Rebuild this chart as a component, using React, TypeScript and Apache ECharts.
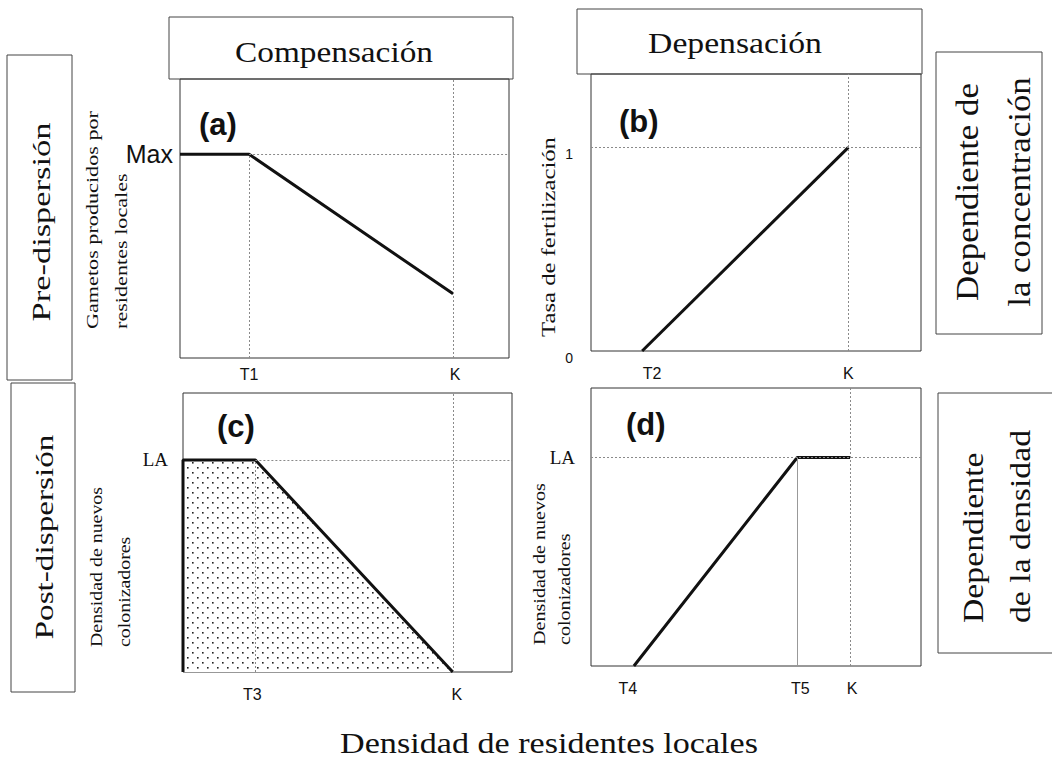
import React, { useEffect, useRef } from 'react';
import * as echarts from 'echarts';

// ---------- data ----------
const X_MAX = 100;

// (a) Compensación, pre-dispersión
const aX = [0, 21, 83];
const aY = [73, 73, 23];
const aXTickValues = [21, 83];
const aXTickLabels = ['T1', 'K'];
const aYTickValues = [73];
const aYTickLabels = ['Max'];
const aYMax = 100;

// (b) Depensación, pre-dispersión
const bX = [15.5, 78];
const bY = [0, 1];
const bXTickValues = [15.5, 78];
const bXTickLabels = ['T2', 'K'];
const bYTickValues = [0, 1];
const bYTickLabels = ['0', '1'];
const bYMax = 1.36;

// (c) Compensación, post-dispersión
const cX = [0, 0, 22, 82];
const cY = [0, 76, 76, 0];
const cXTickValues = [22, 82];
const cXTickLabels = ['T3', 'K'];
const cYTickValues = [76];
const cYTickLabels = ['LA'];
const cYMax = 100;

// (d) Depensación, post-dispersión
const dX = [13, 62.5, 78.5];
const dY = [0, 75, 75];
const dXTickValues = [13, 62.5, 78.5];
const dXTickLabels = ['T4', 'T5', 'K'];
const dYTickValues = [75];
const dYTickLabels = ['LA'];
const dYMax = 100;

// ---------- helpers ----------
const SERIF = 'Liberation Serif';
const SANS = 'Liberation Sans';
const INK = '#111';
const GUIDE = '#8a8a8a';

const zip = (xs: number[], ys: number[]) => xs.map((x, i) => [x, ys[i]]);

let measureCtx: CanvasRenderingContext2D | null = null;
function textWidth(text: string, font: string) {
  if (!measureCtx) measureCtx = document.createElement('canvas').getContext('2d');
  if (!measureCtx) return 1;
  measureCtx.font = font;
  return measureCtx.measureText(text).width || 1;
}

function rotText(text: string, x: number, y: number, size: number, family: string, scale: number, align = 'center') {
  return {
    type: 'text',
    x,
    y,
    rotation: Math.PI / 2,
    scaleX: scale,
    scaleY: 1,
    silent: true,
    z: 10,
    style: {
      text,
      fontSize: size,
      fontFamily: family,
      fill: INK,
      align,
      verticalAlign: 'middle',
      textAlign: align,
      textVerticalAlign: 'middle',
    },
  };
}

function horText(text: string, x: number, y: number, size: number, family: string, scale: number) {
  return {
    type: 'text',
    x,
    y,
    scaleX: scale,
    scaleY: 1,
    silent: true,
    z: 10,
    style: {
      text,
      fontSize: size,
      fontFamily: family,
      fill: INK,
      align: 'center',
      verticalAlign: 'middle',
      textAlign: 'center',
      textVerticalAlign: 'middle',
    },
  };
}

function box(x: number, y: number, w: number, h: number) {
  return {
    type: 'rect',
    shape: { x, y, width: w, height: h },
    silent: true,
    z: 1,
    style: { fill: 'none', stroke: '#444', lineWidth: 1 },
  };
}

function fit(text: string, size: number, family: string, target: number) {
  return target / textWidth(text, `${size}px ${family}`);
}

type Seg = { a: number[]; b: number[]; solid?: boolean };
function guides(segs: Seg[]) {
  return {
    silent: true,
    symbol: ['none', 'none'],
    label: { show: false },
    lineStyle: { type: [2, 2], color: GUIDE, width: 1 },
    data: segs.map((s) => [
      s.solid
        ? { coord: s.a, lineStyle: { type: 'solid', color: '#999', width: 1 } }
        : { coord: s.a },
      { coord: s.b },
    ]),
  };
}

function makeDots(): HTMLCanvasElement {
  const c = document.createElement('canvas');
  c.width = 10;
  c.height = 10;
  const g = c.getContext('2d');
  if (g) {
    g.fillStyle = '#ffffff';
    g.fillRect(0, 0, 10, 10);
    g.fillStyle = '#222';
    g.fillRect(2, 2, 1.6, 1.6);
    g.fillRect(7, 7, 1.6, 1.6);
  }
  return c;
}

// shifts: horizontal nudge (px) of each label relative to its tick, as in the figure
function xAxisOf(grid: number, vals: number[], labs: string[], margin: number, shifts: number[]) {
  const rich: any = {};
  shifts.forEach((s, i) => {
    rich['p' + i] = {
      fontFamily: SANS,
      fontSize: 16,
      color: INK,
      padding: s >= 0 ? [0, 0, 0, 2 * s] : [0, -2 * s, 0, 0],
    };
  });
  return {
    type: 'value',
    gridIndex: grid,
    min: 0,
    max: X_MAX,
    axisLine: { show: false },
    axisTick: { show: false },
    splitLine: { show: false },
    axisLabel: {
      customValues: vals,
      formatter: (v: number) => {
        const i = vals.findIndex((t) => Math.abs(t - v) < 1e-6);
        return i >= 0 ? `{p${i}|${labs[i]}}` : '';
      },
      rich,
      margin,
      fontFamily: SANS,
      fontSize: 16,
      color: INK,
    },
  };
}

function yAxisOf(grid: number, max: number, vals: number[], labs: string[], label: any) {
  return {
    type: 'value',
    gridIndex: grid,
    min: 0,
    max,
    axisLine: { show: false },
    axisTick: { show: false },
    splitLine: { show: false },
    axisLabel: {
      customValues: vals,
      formatter: (v: number) => {
        const i = vals.findIndex((t) => Math.abs(t - v) < 1e-6);
        return i >= 0 ? labs[i] : '';
      },
      color: INK,
      ...label,
    },
  };
}

export default function App() {
  const ref = useRef<HTMLDivElement>(null);

  useEffect(() => {
    if (!ref.current) return;
    const chart = echarts.init(ref.current, undefined, { renderer: 'svg' });

    const dots = makeDots();
    const lineStyle = { color: INK, width: 3 };

    const [aT1, aK] = aXTickValues;
    const aMax = aYTickValues[0];
    const bK = bXTickValues[1];
    const bOne = bYTickValues[1];
    const [cT3, cK] = cXTickValues;
    const cLA = cYTickValues[0];
    const [, dT5, dK] = dXTickValues;
    const dLA = dYTickValues[0];

    // text scales (fit measured lengths in the figure)
    const sPre = fit('Pre-dispersión', 26, SERIF, 199);
    const sPost = fit('Post-dispersión', 26, SERIF, 205);
    const sA = fit('Gametos producidos por', 16, SERIF, 218);
    const sB = fit('Tasa de fertilización', 19, SERIF, 200);
    const sC = fit('Densidad de nuevos', 17, SERIF, 160);
    const sD = fit('Densidad de nuevos', 17, SERIF, 162);
    const sR1 = fit('Dependiente de', 32, SERIF, 218);
    const sR2 = fit('de la densidad', 30, SERIF, 193);
    const sComp = fit('Compensación', 30, SERIF, 198);
    const sDep = fit('Depensación', 30, SERIF, 174);
    const sBottom = fit('Densidad de residentes locales', 30, SERIF, 418);

    const titleStyle = { fontFamily: SANS, fontSize: 31, fontWeight: 'bold', color: INK };

    const option: any = {
      animation: false,
      backgroundColor: '#ffffff',
      title: [
        { text: '(a)', left: 199, top: 109, padding: 0, textStyle: titleStyle },
        { text: '(b)', left: 619, top: 106, padding: 0, textStyle: titleStyle },
        { text: '(c)', left: 217, top: 411, padding: 0, textStyle: titleStyle },
        { text: '(d)', left: 626, top: 409, padding: 0, textStyle: titleStyle },
      ],
      grid: [
        { left: 180, top: 79, width: 329, height: 279, show: true, borderColor: '#333', borderWidth: 1, backgroundColor: 'transparent' },
        { left: 591, top: 74, width: 330, height: 277, show: true, borderColor: '#333', borderWidth: 1, backgroundColor: 'transparent' },
        { left: 183, top: 393, width: 329, height: 279, show: true, borderColor: '#333', borderWidth: 1, backgroundColor: 'transparent' },
        { left: 591, top: 388, width: 330, height: 278, show: true, borderColor: '#333', borderWidth: 1, backgroundColor: 'transparent' },
      ],
      xAxis: [
        xAxisOf(0, aXTickValues, aXTickLabels, 8, [0, 2]),
        xAxisOf(1, bXTickValues, bXTickLabels, 14, [10, 0]),
        xAxisOf(2, cXTickValues, cXTickLabels, 14, [-3, 4]),
        xAxisOf(3, dXTickValues, dXTickLabels, 14, [-6, 3, 2]),
      ],
      yAxis: [
        yAxisOf(0, aYMax, aYTickValues, aYTickLabels, { fontFamily: SANS, fontSize: 25, margin: 7 }),
        yAxisOf(1, bYMax, bYTickValues, bYTickLabels, { fontFamily: SANS, fontSize: 14, margin: 18, verticalAlign: 'top' }),
        yAxisOf(2, cYMax, cYTickValues, cYTickLabels, { fontFamily: SERIF, fontSize: 19, margin: 15 }),
        yAxisOf(3, dYMax, dYTickValues, dYTickLabels, { fontFamily: SERIF, fontSize: 19, margin: 16 }),
      ],
      series: [
        {
          type: 'line',
          xAxisIndex: 0,
          yAxisIndex: 0,
          data: zip(aX, aY),
          symbol: 'none',
          clip: false,
          lineStyle,
          markLine: guides([
            { a: [aT1, aMax], b: [X_MAX, aMax] },
            { a: [aT1, 0], b: [aT1, aMax] },
            { a: [aK, 0], b: [aK, aYMax] },
          ]),
        },
        {
          type: 'line',
          xAxisIndex: 1,
          yAxisIndex: 1,
          data: zip(bX, bY),
          symbol: 'none',
          clip: false,
          lineStyle,
          markLine: guides([
            { a: [0, bOne], b: [X_MAX, bOne] },
            { a: [bK, 0], b: [bK, bYMax] },
          ]),
        },
        {
          type: 'line',
          xAxisIndex: 2,
          yAxisIndex: 2,
          data: zip(cX, cY),
          symbol: 'none',
          clip: false,
          lineStyle,
          areaStyle: { color: { image: dots, repeat: 'repeat' }, opacity: 1 },
          markLine: guides([
            { a: [cT3, cLA], b: [X_MAX, cLA] },
            { a: [cT3, 0], b: [cT3, cLA] },
            { a: [cK, 0], b: [cK, cYMax] },
          ]),
        },
        {
          type: 'line',
          xAxisIndex: 3,
          yAxisIndex: 3,
          data: zip(dX, dY),
          symbol: 'none',
          clip: false,
          lineStyle,
          markLine: guides([
            { a: [0, dLA], b: [X_MAX, dLA] },
            { a: [dT5, 0], b: [dT5, dLA], solid: true },
            { a: [dK, 0], b: [dK, dYMax] },
          ]),
        },
      ],
      graphic: [
        box(169, 17, 344, 62),
        box(577, 9, 345, 65),
        box(7, 55, 65, 325),
        box(11, 383, 64, 309),
        box(936, 52, 106, 282),
        box(938, 393, 130, 260),
        horText('Compensación', 334, 52, 30, SERIF, sComp),
        horText('Depensación', 735, 43, 30, SERIF, sDep),
        horText('Densidad de residentes locales', 549, 743, 30, SERIF, sBottom),
        rotText('Pre-dispersión', 41, 222, 26, SERIF, sPre),
        rotText('Post-dispersión', 44, 537, 26, SERIF, sPost),
        rotText('Gametos producidos por', 93, 329, 16, SERIF, sA, 'left'),
        rotText('residentes locales', 121.5, 329, 16, SERIF, sA, 'left'),
        rotText('Tasa de fertilización', 549, 237, 19, SERIF, sB),
        rotText('Densidad de nuevos', 96, 647, 17, SERIF, sC, 'left'),
        rotText('colonizadores', 124, 647, 17, SERIF, sC, 'left'),
        rotText('Densidad de nuevos', 539, 645, 17, SERIF, sD, 'left'),
        rotText('colonizadores', 564, 645, 17, SERIF, sD, 'left'),
        rotText('Dependiente de', 967, 192, 32, SERIF, sR1),
        rotText('la concentración', 1019, 192, 32, SERIF, sR1),
        rotText('Dependiente', 973, 623, 30, SERIF, sR2, 'left'),
        rotText('de la densidad', 1020, 623, 30, SERIF, sR2, 'left'),
      ],
    };

    chart.setOption(option);
    return () => chart.dispose();
  }, []);

  return (
    <div
      ref={ref}
      style={{ position: 'fixed', left: 0, top: 0, width: 1052, height: 764, background: '#fff' }}
    />
  );
}
